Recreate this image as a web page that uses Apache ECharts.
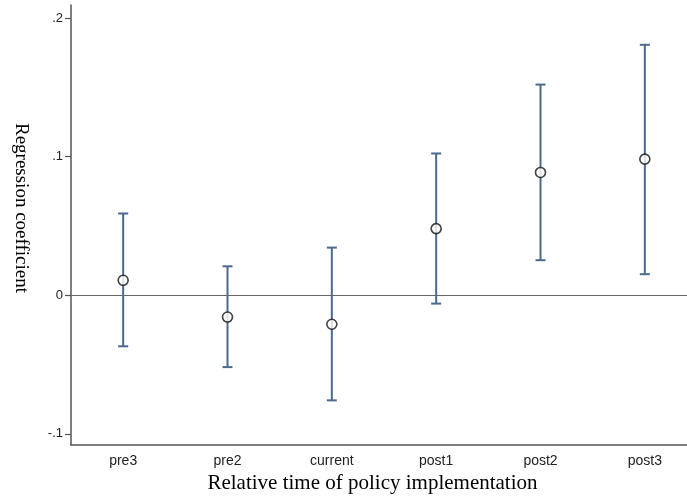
<!DOCTYPE html>
<html><head><meta charset="utf-8">
<style>html,body{margin:0;padding:0;background:#fff}#c{width:687px;height:498px}</style>
<script src="https://cdn.jsdelivr.net/npm/echarts@6/dist/echarts.min.js"></script>
</head><body><div id="c"></div>
<script>
var categories = ['pre3', 'pre2', 'current', 'post1', 'post2', 'post3'];
var coef  = [0.0108, -0.0157, -0.0209, 0.0481, 0.0886, 0.0982];
var lower = [-0.0368, -0.0518, -0.0758, -0.0060, 0.0253, 0.0152];
var upper = [0.0590, 0.0209, 0.0344, 0.1023, 0.1520, 0.1807];
var yTicks = [-0.1, 0, 0.1, 0.2];
var yTickLabels = ['-.1', '0', '.1', '.2'];

var chart = echarts.init(document.getElementById('c'), null, {renderer: 'canvas'});
var barData = categories.map(function (c, i) { return [i, lower[i], upper[i]]; });
var ptData = categories.map(function (c, i) { return [i, coef[i]]; });

chart.setOption({
  animation: false,
  backgroundColor: '#fff',
  grid: {left: 71, right: -10, top: 5, bottom: 53, containLabel: false, outerBoundsMode: 'none'},
  xAxis: {
    type: 'category', data: categories, boundaryGap: true,
    name: 'Relative time of policy implementation', nameLocation: 'middle', nameGap: 25,
    nameTextStyle: {fontFamily: 'Liberation Serif', fontSize: 21, color: '#000', padding: [0, 23, 0, 0]},
    axisLine: {onZero: false, lineStyle: {color: '#555', width: 1.5}},
    axisTick: {alignWithLabel: true, length: 7, lineStyle: {color: '#555', width: 1.2}},
    axisLabel: {fontFamily: 'Liberation Sans', fontSize: 14, color: '#222', margin: 9},
    splitLine: {show: false}
  },
  yAxis: {
    type: 'value', min: -0.108, max: 0.2094,
    name: 'Regression coefficient', nameLocation: 'middle', nameGap: 41, nameRotate: -90,
    nameTextStyle: {fontFamily: 'Liberation Serif', fontSize: 19, color: '#000', padding: [0, 34, 0, 0]},
    axisLine: {show: true, onZero: false, lineStyle: {color: '#555', width: 1.5}},
    axisTick: {show: true, length: 6, customValues: yTicks, lineStyle: {color: '#555', width: 1.2}},
    axisLabel: {fontFamily: 'Liberation Sans', fontSize: 13, color: '#222', margin: 8, customValues: yTicks,
      formatter: function (v) { var i = yTicks.indexOf(v); return i >= 0 ? yTickLabels[i] : ''; }},
    splitLine: {show: false}
  },
  series: [
    {
      type: 'custom', data: barData, z: 2,
      renderItem: function (params, api) {
        var x = api.value(0);
        var lo = api.coord([x, api.value(1)]);
        var hi = api.coord([x, api.value(2)]);
        var hw = 5;
        var st = {stroke: '#4a6a8e', lineWidth: 2};
        return {type: 'group', children: [
          {type: 'line', shape: {x1: lo[0], y1: lo[1], x2: hi[0], y2: hi[1]}, style: st},
          {type: 'line', shape: {x1: lo[0] - hw, y1: lo[1], x2: lo[0] + hw, y2: lo[1]}, style: st},
          {type: 'line', shape: {x1: hi[0] - hw, y1: hi[1], x2: hi[0] + hw, y2: hi[1]}, style: st}
        ]};
      },
      markLine: {
        silent: true, symbol: 'none', label: {show: false},
        lineStyle: {color: '#666', width: 1.2, type: 'solid'},
        data: [{yAxis: 0}]
      }
    },
    {
      type: 'scatter', data: ptData, z: 3, symbol: 'circle', symbolSize: 10,
      itemStyle: {color: '#fff', borderColor: '#111', borderWidth: 1.6}
    }
  ]
});
</script></body></html>
